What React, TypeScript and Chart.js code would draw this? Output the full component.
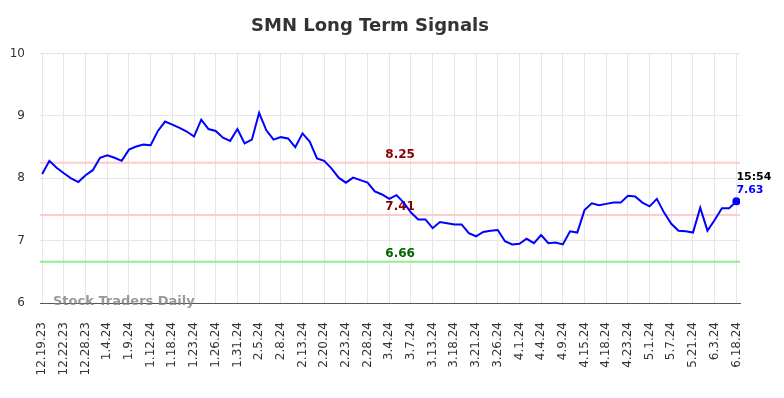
import { useEffect, useRef } from "react";
import { Chart, registerables } from "chart.js";

Chart.register(...registerables);

const tickLabels = [
  "12.19.23", "12.22.23", "12.28.23", "1.4.24", "1.9.24", "1.12.24", "1.18.24",
  "1.23.24", "1.26.24", "1.31.24", "2.5.24", "2.8.24", "2.13.24", "2.20.24",
  "2.23.24", "2.28.24", "3.4.24", "3.7.24", "3.13.24", "3.18.24", "3.21.24",
  "3.26.24", "4.1.24", "4.4.24", "4.9.24", "4.15.24", "4.18.24", "4.23.24",
  "5.1.24", "5.7.24", "5.21.24", "6.3.24", "6.18.24",
];

const prices = [
  8.07, 8.28, 8.17, 8.08, 8.0, 7.94, 8.05, 8.13, 8.33, 8.37,
  8.33, 8.28, 8.46, 8.51, 8.54, 8.53, 8.76, 8.91, 8.86, 8.81,
  8.75, 8.67, 8.94, 8.79, 8.76, 8.65, 8.6, 8.79, 8.56, 8.62,
  9.05, 8.77, 8.62, 8.66, 8.64, 8.5, 8.72, 8.59, 8.32, 8.28,
  8.16, 8.01, 7.93, 8.01, 7.97, 7.93, 7.79, 7.74, 7.67, 7.73,
  7.61, 7.45, 7.34, 7.34, 7.2, 7.3, 7.28, 7.26, 7.26, 7.12,
  7.07, 7.14, 7.16, 7.17, 6.99, 6.94, 6.95, 7.03, 6.96, 7.09,
  6.96, 6.97, 6.94, 7.15, 7.13, 7.49, 7.6, 7.57, 7.59, 7.61,
  7.61, 7.72, 7.71, 7.61, 7.55, 7.67, 7.45, 7.27, 7.16, 7.15,
  7.13, 7.53, 7.16, 7.33, 7.52, 7.52, 7.63,
];

const levelValues = [8.25, 7.41, 6.66];
const levelTexts = ["8.25", "7.41", "6.66"];
const lastTime = "15:54";
const lastValueText = "7.63";
const titleText = "SMN Long Term Signals";
const watermarkText = "Stock Traders Daily";

const FONT = "'DejaVu Sans', sans-serif";
const LABEL_EVERY = 3;
const levelLineColors = ["#ffcccc", "#ffcccc", "#90ee90"];
const levelTextColors = ["#8b0000", "#8b0000", "#006400"];

const overlayPlugin = {
  id: "overlay",
  beforeDatasetsDraw(chart: any) {
    const { ctx, chartArea, scales } = chart;
    const y = scales.y;
    const x = scales.x;
    ctx.save();
    levelValues.forEach((v, k) => {
      const py = y.getPixelForValue(v);
      ctx.strokeStyle = levelLineColors[k];
      ctx.lineWidth = 2;
      ctx.beginPath();
      ctx.moveTo(chartArea.left, py);
      ctx.lineTo(chartArea.right, py);
      ctx.stroke();
    });
    const cx = x.getPixelForValue(49.5);
    levelValues.forEach((v, k) => {
      const py = y.getPixelForValue(v);
      ctx.fillStyle = levelTextColors[k];
      ctx.font = `bold 12px ${FONT}`;
      ctx.textAlign = "center";
      ctx.textBaseline = "bottom";
      ctx.fillText(levelTexts[k], cx, py - 2);
    });
    ctx.restore();
  },
  afterDraw(chart: any) {
    const { ctx, chartArea, scales } = chart;
    ctx.save();
    ctx.font = `bold 13px ${FONT}`;
    ctx.fillStyle = "rgba(128,128,128,0.8)";
    ctx.textAlign = "left";
    ctx.textBaseline = "middle";
    ctx.fillText(watermarkText, chartArea.left + 13, chartArea.bottom - 1);

    const li = prices.length - 1;
    const px = scales.x.getPixelForValue(li);
    const py = scales.y.getPixelForValue(prices[li]);
    ctx.font = `bold 11px ${FONT}`;
    ctx.textAlign = "left";
    ctx.textBaseline = "middle";
    ctx.fillStyle = "#000000";
    ctx.fillText(lastTime, px, py - 24);
    ctx.fillStyle = "#0000ff";
    ctx.fillText(lastValueText, px, py - 11);
    ctx.restore();
  },
};

export default function App() {
  const ref = useRef<HTMLCanvasElement>(null);
  useEffect(() => {
    document.body.style.margin = "0";
    const chart = new Chart(ref.current!, {
      type: "line",
      data: {
        datasets: [
          {
            data: prices.map((v, i) => ({ x: i, y: v })),
            borderColor: "#0000ff",
            backgroundColor: "#0000ff",
            borderWidth: 2,
            tension: 0,
            pointRadius: (c: any) => (c.dataIndex === prices.length - 1 ? 4 : 0),
            pointBackgroundColor: "#0000ff",
            pointBorderWidth: 0,
          },
        ],
      },
      options: {
        responsive: false,
        animation: false,
        layout: { padding: { right: 44, left: 0, top: 0, bottom: 0 } },
        plugins: {
          legend: { display: false },
          tooltip: { enabled: false },
          title: {
            display: true,
            text: titleText,
            color: "#333333",
            font: { family: FONT, size: 18, weight: "bold" },
            padding: { top: 16, bottom: 16 },
          },
        },
        scales: {
          x: {
            type: "linear",
            min: -0.3,
            max: prices.length - 0.5,
            afterBuildTicks: (s: any) => {
              s.ticks = tickLabels.map((_, k) => ({ value: k * LABEL_EVERY }));
            },
            afterFit: (s: any) => {
              s.height = 95;
            },
            grid: { color: "#e6e6e6", drawTicks: false },
            border: { color: "#555555", width: 1 },
            ticks: {
              autoSkip: false,
              maxRotation: 90,
              minRotation: 90,
              padding: 19,
              color: "#333333",
              font: { family: FONT, size: 12 },
              callback: (v: any) => tickLabels[Math.round(Number(v) / LABEL_EVERY)] ?? "",
            },
          },
          y: {
            min: 6,
            max: 10,
            afterFit: (s: any) => {
              s.width = 40;
            },
            grid: { color: "#e6e6e6", drawTicks: false },
            border: { display: false },
            ticks: {
              stepSize: 1,
              padding: 15,
              color: "#333333",
              font: { family: FONT, size: 12 },
            },
          },
        },
      },
      plugins: [overlayPlugin],
    } as any);
    return () => chart.destroy();
  }, []);
  return <canvas ref={ref} width={784} height={398} style={{ display: "block" }} />;
}
